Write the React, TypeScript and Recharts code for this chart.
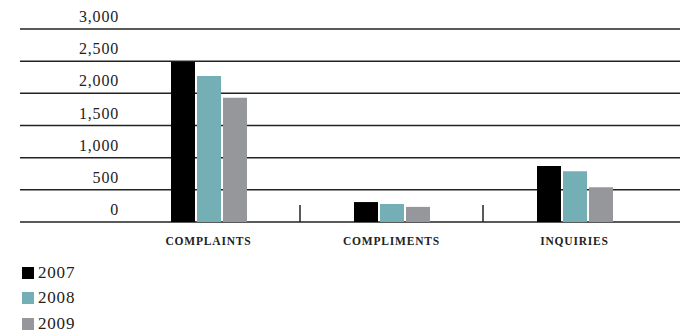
import { BarChart, Bar, XAxis, YAxis, CartesianGrid } from "recharts";

// categories and yearly counts
const CATEGORIES = ["COMPLAINTS", "COMPLIMENTS", "INQUIRIES"];
const Y2007 = [2490, 310, 870];
const Y2008 = [2270, 280, 790];
const Y2009 = [1930, 235, 540];
const Y_TICKS = [0, 500, 1000, 1500, 2000, 2500, 3000];
// divider ticks halfway between category indexes
const DIVIDERS = [0.5, 1.5];

const SERIES = [
  { key: "y2007", name: "2007", color: "#000000" },
  { key: "y2008", name: "2008", color: "#74afb5" },
  { key: "y2009", name: "2009", color: "#96979b" },
];

const FONT = "'Liberation Serif', 'DejaVu Serif', serif";
const LINE = "#222222";

const data = CATEGORIES.map((name, i) => ({
  name,
  idx: i,
  y2007: Y2007[i],
  y2008: Y2008[i],
  y2009: Y2009[i],
}));

type TickProps = { x?: number; y?: number; payload?: { value: string | number } };

// y labels sit above their gridline, right aligned
const YTick = ({ y, payload }: TickProps) => (
  <text
    x={119}
    y={(y ?? 0) - 7}
    textAnchor="end"
    fontFamily={FONT}
    fontSize={16}
    fill="#222"
    letterSpacing={0.8}
  >
    {Number(payload?.value).toLocaleString("en-US")}
  </text>
);

const XTick = ({ x, y, payload }: TickProps) => (
  <text
    x={x}
    y={(y ?? 0) + 23}
    textAnchor="middle"
    fontFamily={FONT}
    fontSize={11.5}
    fontWeight="bold"
    fill="#222"
    letterSpacing={0.8}
  >
    {payload?.value}
  </text>
);

export default function App() {
  return (
    <div style={{ position: "absolute", left: 0, top: 0, width: 680, height: 336, background: "#fff" }}>
      <BarChart
        width={680}
        height={250}
        data={data}
        margin={{ top: 29, right: 0, left: 19, bottom: 0 }}
        barSize={24}
        barGap={2}
      >
        <CartesianGrid
          vertical={false}
          stroke={LINE}
          strokeWidth={1.5}
        />
        <XAxis
          xAxisId="div"
          dataKey="idx"
          type="number"
          domain={[0, 2]}
          ticks={DIVIDERS}
          padding={{ left: 188.5, right: 105.5 }}
          mirror
          height={1}
          axisLine={false}
          tickSize={17}
          tickLine={{ stroke: LINE, strokeWidth: 1.5 }}
          tick={() => <g />}
        />
        <XAxis
          dataKey="name"
          padding={{ left: 97, right: 14 }}
          height={28}
          axisLine={false}
          tickLine={false}
          tickSize={0}
          tickMargin={0}
          tick={<XTick />}
          interval={0}
        />
        <YAxis
          domain={[0, 3000]}
          ticks={Y_TICKS}
          width={1}
          axisLine={false}
          tickLine={false}
          tick={<YTick />}
          interval={0}
        />
        {SERIES.map((s) => (
          <Bar key={s.key} dataKey={s.key} name={s.name} fill={s.color} isAnimationActive={false} />
        ))}
      </BarChart>
      <div style={{ position: "absolute", left: 22, top: 260, fontFamily: FONT }}>
        {SERIES.map((s) => (
          <div key={s.key} style={{ display: "flex", alignItems: "center", height: 25.5 }}>
            <span style={{ width: 12, height: 12, background: s.color, display: "inline-block" }} />
            <span style={{ marginLeft: 4, fontSize: 17, color: "#222", letterSpacing: 0.8 }}>{s.name}</span>
          </div>
        ))}
      </div>
    </div>
  );
}
